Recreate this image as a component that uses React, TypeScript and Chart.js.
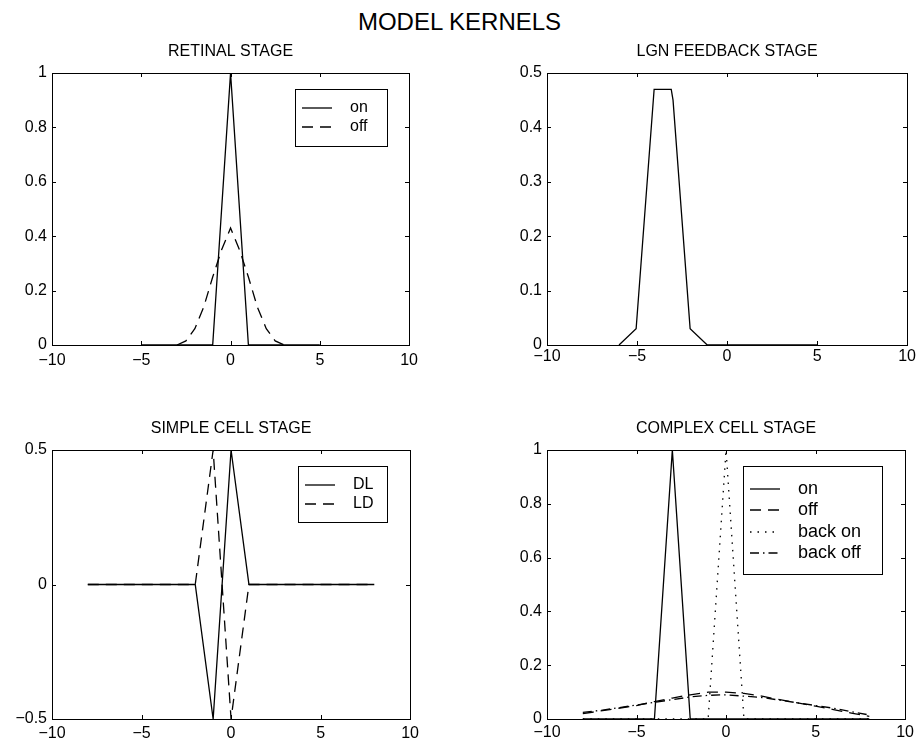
import React, { useEffect, useRef } from "react";
import { Chart, registerables } from "chart.js";

Chart.register(...registerables);

const FONT = "'Liberation Sans', Arial, Helvetica, sans-serif";

// ---- Data ----
const mainTitle = "MODEL KERNELS";
const xTickValues = [-10, -5, 0, 5, 10];

// Retinal stage
const retinalOnX = [-5, -1, 0, 1, 5];
const retinalOnY = [0, 0, 1, 0, 0];
const retinalOffX = [-3, -2.5, -2, -1.5, -1, -0.5, 0, 0.5, 1, 1.5, 2, 2.5, 3];
const retinalOffY = [0, 0.015, 0.06, 0.14, 0.25, 0.35, 0.43, 0.35, 0.25, 0.14, 0.06, 0.015, 0];

// LGN feedback stage
const lgnX = [-6, -5.05, -4.05, -3.1, -3.0, -2.05, -1.1, 5];
const lgnY = [0, 0.03, 0.47, 0.47, 0.45, 0.03, 0, 0];

// Simple cell stage
const simpleDLX = [-8, -2, -1, 0, 1, 8];
const simpleDLY = [0, 0, -0.5, 0.5, 0, 0];
const simpleLDX = [-8, -2, -1, 0, 1, 8];
const simpleLDY = [0, 0, 0.5, -0.5, 0, 0];

// Complex cell stage
const complexOnX = [-8, -4, -3, -2, 8];
const complexOnY = [0, 0, 1, 0, 0];
const complexBroadX = [-8, -7, -6, -5, -4, -3, -2, -1, 0, 1, 2, 3, 4, 5, 6, 7, 8];
const complexOffY = [0.02, 0.03, 0.04, 0.05, 0.065, 0.078, 0.09, 0.1, 0.1, 0.095, 0.085, 0.072, 0.06, 0.048, 0.035, 0.022, 0.01];
const complexBackOnX = [-8, -1, 0, 1, 8];
const complexBackOnY = [0, 0, 1, 0, 0];
const complexBackOffY = [0.025, 0.032, 0.042, 0.052, 0.062, 0.072, 0.082, 0.088, 0.09, 0.085, 0.08, 0.07, 0.06, 0.05, 0.04, 0.027, 0.015];

// ---- Styles ----
const SOLID: number[] = [];
const DASHED = [11, 7];
const DOTTED = [1.5, 6];
const DASHDOT = [9, 4, 1.5, 4];

type Series = { label: string; x: number[]; y: number[]; dash: number[] };
type LegendCfg = { width: number; height: number; right: number; top: number; fontSize: number; rows: number[] } | null;
type Panel = {
  title: string;
  L: number; T: number; R: number; B: number;
  yMin: number; yMax: number; yStep: number;
  xPad: number;
  series: Series[];
  legend: LegendCfg;
};

const panels: Panel[] = [
  {
    title: "RETINAL STAGE", L: 52, T: 73, R: 414, B: 345,
    yMin: 0, yMax: 1, yStep: 0.2, xPad: 7,
    series: [
      { label: "on", x: retinalOnX, y: retinalOnY, dash: SOLID },
      { label: "off", x: retinalOffX, y: retinalOffY, dash: DASHED },
    ],
    legend: { width: 92, height: 57, right: 22, top: 16, fontSize: 16, rows: [19, 38] },
  },
  {
    title: "LGN FEEDBACK STAGE", L: 547, T: 73, R: 908, B: 345,
    yMin: 0, yMax: 0.5, yStep: 0.1, xPad: 3,
    series: [{ label: "lgn", x: lgnX, y: lgnY, dash: SOLID }],
    legend: null,
  },
  {
    title: "SIMPLE CELL STAGE", L: 52, T: 450, R: 414, B: 719,
    yMin: -0.5, yMax: 0.5, yStep: 0.5, xPad: 6,
    series: [
      { label: "DL", x: simpleDLX, y: simpleDLY, dash: SOLID },
      { label: "LD", x: simpleLDX, y: simpleLDY, dash: DASHED },
    ],
    legend: { width: 89, height: 56, right: 23, top: 16, fontSize: 16, rows: [19, 38] },
  },
  {
    title: "COMPLEX CELL STAGE", L: 547, T: 450, R: 908, B: 719,
    yMin: 0, yMax: 1, yStep: 0.2, xPad: 5,
    series: [
      { label: "on", x: complexOnX, y: complexOnY, dash: SOLID },
      { label: "off", x: complexBroadX, y: complexOffY, dash: DASHED },
      { label: "back on", x: complexBackOnX, y: complexBackOnY, dash: DOTTED },
      { label: "back off", x: complexBroadX, y: complexBackOffY, dash: DASHDOT },
    ],
    legend: { width: 139, height: 108, right: 23, top: 16, fontSize: 18, rows: [23, 44, 66, 87] },
  },
];

function fmtTick(v: number): string {
  const n = Number(Number(v).toFixed(3));
  const s = String(Math.abs(n));
  return n < 0 ? "\u2212" + s : s;
}

const framePlugin = {
  id: "frameTicks",
  afterDatasetsDraw(chart: any) {
    const { ctx, chartArea, scales } = chart;
    const left = Math.round(chartArea.left);
    const top = Math.round(chartArea.top);
    const right = Math.round(chartArea.right);
    const bottom = Math.round(chartArea.bottom);
    ctx.save();
    ctx.strokeStyle = "#000";
    ctx.lineWidth = 1;
    ctx.setLineDash([]);
    ctx.strokeRect(left + 0.5, top + 0.5, right - left, bottom - top);
    const tl = 4;
    ctx.beginPath();
    scales.x.ticks.forEach((t: any) => {
      const px = Math.round(scales.x.getPixelForValue(t.value)) + 0.5;
      ctx.moveTo(px, bottom);
      ctx.lineTo(px, bottom - tl);
      ctx.moveTo(px, top);
      ctx.lineTo(px, top + tl);
    });
    scales.y.ticks.forEach((t: any) => {
      const py = Math.round(scales.y.getPixelForValue(t.value)) + 0.5;
      ctx.moveTo(left, py);
      ctx.lineTo(left + tl, py);
      ctx.moveTo(right, py);
      ctx.lineTo(right - tl, py);
    });
    ctx.stroke();
    ctx.restore();
  },
};

const legendPlugin = {
  id: "boxLegend",
  afterDraw(chart: any, _args: any, opts: any) {
    if (!opts || !opts.cfg) return;
    const cfg = opts.cfg;
    const { ctx, chartArea } = chart;
    const bx = Math.round(chartArea.right - cfg.right - cfg.width);
    const by = Math.round(chartArea.top + cfg.top);
    ctx.save();
    ctx.fillStyle = "#fff";
    ctx.fillRect(bx, by, cfg.width, cfg.height);
    ctx.strokeStyle = "#000";
    ctx.lineWidth = 1;
    ctx.setLineDash([]);
    ctx.strokeRect(bx + 0.5, by + 0.5, cfg.width, cfg.height);
    chart.data.datasets.forEach((ds: any, i: number) => {
      const y = by + cfg.rows[i];
      ctx.strokeStyle = "#000";
      ctx.lineWidth = 1.3;
      ctx.setLineDash(ds.borderDash || []);
      ctx.beginPath();
      ctx.moveTo(bx + 7, y);
      ctx.lineTo(bx + 37, y);
      ctx.stroke();
      ctx.setLineDash([]);
      ctx.fillStyle = "#000";
      ctx.font = `${cfg.fontSize}px ${FONT}`;
      ctx.textAlign = "left";
      ctx.textBaseline = "middle";
      ctx.fillText(ds.label, bx + 55, y);
    });
    ctx.restore();
  },
};

function PanelChart({ panel }: { panel: Panel }) {
  const ref = useRef<HTMLCanvasElement | null>(null);
  const width = panel.R - panel.L + 62;
  const height = panel.B - panel.T + 68;
  useEffect(() => {
    if (!ref.current) return;
    const chart = new Chart(ref.current, {
      type: "line",
      data: {
        datasets: panel.series.map((s) => ({
          label: s.label,
          data: s.x.map((x, i) => ({ x, y: s.y[i] })),
          borderColor: "#000",
          backgroundColor: "#000",
          borderWidth: 1.3,
          borderDash: s.dash,
          pointRadius: 0,
          fill: false,
          tension: 0,
        })),
      },
      options: {
        responsive: false,
        animation: false,
        events: [],
        layout: { padding: { left: 0, right: 10, top: 0, bottom: 0 } },
        plugins: {
          legend: { display: false },
          tooltip: { enabled: false },
          title: {
            display: true,
            text: panel.title,
            fullSize: false,
            color: "#000",
            font: { family: FONT, size: 16, weight: "normal" },
            padding: { top: 12.1, bottom: 11.7 },
          },
          boxLegend: { cfg: panel.legend },
        } as any,
        scales: {
          x: {
            type: "linear",
            min: -10,
            max: 10,
            afterBuildTicks: (scale: any) => {
              scale.ticks = xTickValues.map((v) => ({ value: v }));
            },
            ticks: {
              color: "#000",
              font: { family: FONT, size: 16 },
              padding: panel.xPad - 1,
              maxRotation: 0,
              callback: (v: any) => fmtTick(v),
            },
            grid: { display: false, drawTicks: false },
            border: { display: false },
            afterFit: (scale: any) => {
              scale.height = 25;
            },
          },
          y: {
            type: "linear",
            min: panel.yMin,
            max: panel.yMax,
            ticks: {
              stepSize: panel.yStep,
              color: "#000",
              font: { family: FONT, size: 16 },
              padding: 5,
              callback: (v: any) => fmtTick(v),
            },
            grid: { display: false, drawTicks: false },
            border: { display: false },
            afterFit: (scale: any) => {
              scale.width = 52;
            },
          },
        } as any,
      },
      plugins: [framePlugin, legendPlugin],
    } as any);
    return () => chart.destroy();
  }, [panel]);
  return (
    <canvas
      ref={ref}
      width={width}
      height={height}
      style={{ position: "absolute", left: panel.L - 52, top: panel.T - 43, width, height }}
    />
  );
}

export default function App() {
  return (
    <div style={{ position: "absolute", left: 0, top: 0, width: 919, height: 744, background: "#fff", overflow: "hidden" }}>
      <div
        style={{
          position: "absolute",
          left: 0,
          top: 10,
          width: 919,
          textAlign: "center",
          fontFamily: FONT,
          fontSize: 24,
          lineHeight: "24px",
          color: "#000",
        }}
      >
        {mainTitle}
      </div>
      {panels.map((p) => (
        <PanelChart key={p.title} panel={p} />
      ))}
    </div>
  );
}
